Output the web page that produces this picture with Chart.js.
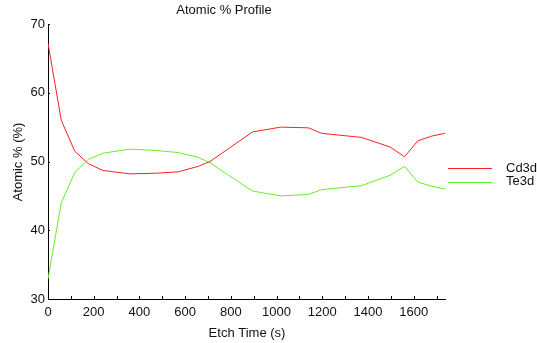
<!DOCTYPE html>
<html>
<head>
<meta charset="utf-8">
<script src="https://cdn.jsdelivr.net/npm/chart.js@4.4.1/dist/chart.umd.min.js"></script>
<style>
  html, body { margin: 0; padding: 0; background: #fff; }
  #wrap { width: 537px; height: 343px; }
</style>
</head>
<body>
<div id="wrap"><canvas id="profile"></canvas></div>
<script>
// etch times (s) and atomic %
const etchTime = [0, 58, 117, 176, 240, 358, 475, 570, 658, 709, 895, 1018, 1139, 1197, 1373, 1497, 1560, 1618, 1679, 1737];
const cd3d = [67.2, 56.0, 51.5, 49.7, 48.7, 48.2, 48.3, 48.5, 49.3, 50.0, 54.3, 55.0, 54.9, 54.1, 53.5, 52.1, 50.7, 53.0, 53.7, 54.1];
const te3d = [32.9, 44.0, 48.4, 50.3, 51.2, 51.8, 51.6, 51.3, 50.6, 49.8, 45.7, 45.0, 45.2, 45.9, 46.5, 48.0, 49.3, 47.0, 46.4, 46.0];
const xTickValues = [0, 200, 400, 600, 800, 1000, 1200, 1400, 1600];
const seriesNames = ["Cd3d", "Te3d"];
const seriesColors = ["#ff2020", "#66ee22"];

const FONT = "'Liberation Sans', Arial, sans-serif";

function toPoints(vals) {
  return etchTime.map((t, i) => ({ x: t, y: vals[i] }));
}

// titles, inward ticks and legend drawn onto the canvas
const decorations = {
  id: "decorations",
  afterDraw(chart) {
    const ctx = chart.ctx;
    const xs = chart.scales.x, ys = chart.scales.y;
    const area = chart.chartArea;
    ctx.save();
    ctx.strokeStyle = "#000";
    ctx.lineWidth = 1;
    ctx.beginPath();
    for (let v = 100; v <= 1700; v += 100) {
      const px = Math.round(xs.getPixelForValue(v)) + 0.5;
      ctx.moveTo(px, area.bottom);
      ctx.lineTo(px, area.bottom - 3);
    }
    for (let v = 40; v <= 70; v += 10) {
      const py = Math.round(ys.getPixelForValue(v)) + 0.5;
      ctx.moveTo(area.left, py);
      ctx.lineTo(area.left + 2, py);
    }
    ctx.stroke();

    ctx.fillStyle = "#111";
    ctx.font = "13px " + FONT;
    ctx.textAlign = "center";
    ctx.textBaseline = "middle";
    ctx.fillText("Atomic % Profile", 224, 10);
    ctx.fillText("Etch Time (s)", 247, 333);
    ctx.save();
    ctx.translate(18, 162);
    ctx.rotate(-Math.PI / 2);
    ctx.fillText("Atomic % (%)", 0, 0);
    ctx.restore();

    ctx.textAlign = "left";
    seriesNames.forEach((name, i) => {
      const y = 168 + i * 13.5;
      ctx.strokeStyle = seriesColors[i];
      ctx.beginPath();
      ctx.moveTo(448, Math.round(y) + 0.5);
      ctx.lineTo(492, Math.round(y) + 0.5);
      ctx.stroke();
      ctx.fillStyle = "#111";
      ctx.fillText(name, 506, y);
    });
    ctx.restore();
  }
};

new Chart(document.getElementById("profile"), {
  type: "line",
  data: {
    datasets: [
      { label: seriesNames[0], data: toPoints(cd3d), borderColor: seriesColors[0] },
      { label: seriesNames[1], data: toPoints(te3d), borderColor: seriesColors[1] }
    ]
  },
  options: {
    responsive: true,
    maintainAspectRatio: false,
    animation: false,
    events: [],
    elements: {
      point: { radius: 0 },
      line: { borderWidth: 1, tension: 0 }
    },
    layout: { padding: { left: 0, top: 24, right: 92, bottom: 0 } },
    plugins: {
      legend: { display: false },
      title: { display: false },
      tooltip: { enabled: false }
    },
    scales: {
      x: {
        type: "linear",
        min: 0,
        max: 1737,
        afterBuildTicks(scale) {
          scale.ticks = xTickValues.map(v => ({ value: v }));
        },
        afterFit(scale) { scale.height = 44; },
        grid: { display: false, drawTicks: false },
        border: { display: true, color: "#000", width: 1 },
        ticks: {
          padding: 6,
          color: "#111",
          maxRotation: 0,
          autoSkip: false,
          callback: v => String(v),
          font: { family: FONT, size: 13 }
        }
      },
      y: {
        min: 30,
        max: 70,
        afterFit(scale) { scale.width = 48; },
        grid: { display: false, drawTicks: false },
        border: { display: true, color: "#000", width: 1 },
        ticks: {
          stepSize: 10,
          padding: 3,
          color: "#111",
          callback: v => String(v),
          font: { family: FONT, size: 13 }
        }
      }
    }
  },
  plugins: [decorations]
});
</script>
</body>
</html>
